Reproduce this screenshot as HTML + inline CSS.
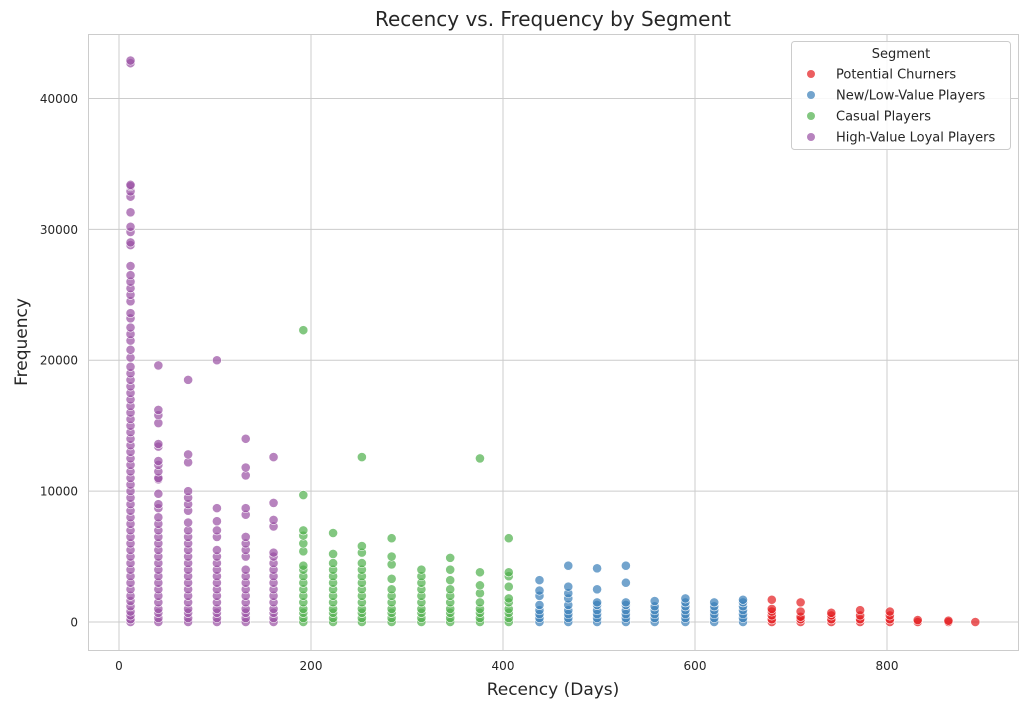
<!DOCTYPE html>
<html><head><meta charset="utf-8">
<style>
body{margin:0;background:#fff;font-family:"Liberation Sans","DejaVu Sans",sans-serif;}
svg text{font-family:"DejaVu Sans","Liberation Sans",sans-serif;}
</style></head>
<body>
<svg id="chart" width="1028" height="708" viewBox="0 0 1028 708">
<rect x="0" y="0" width="1028" height="708" fill="#fff"/>
<g id="grid"></g>
<rect x="88.5" y="34.5" width="930" height="616" fill="none" stroke="#cccccc"/>
<g id="points"></g>
<g id="ticks"></g>
<text x="553" y="26" text-anchor="middle" font-size="20" fill="#262626">Recency vs. Frequency by Segment</text>
<text x="553" y="695" text-anchor="middle" font-size="17" fill="#262626">Recency (Days)</text>
<text x="27" y="342" text-anchor="middle" font-size="17" fill="#262626" transform="rotate(-90 27 342)">Frequency</text>
<g>
<rect x="791.5" y="41.5" width="219" height="108" rx="3" fill="#fff" fill-opacity="0.85" stroke="#cccccc"/>
<text x="901" y="58" text-anchor="middle" font-size="13" fill="#262626">Segment</text>
<g id="legend-items"></g>
</g>
</svg>
<script>
const xTicks=[0,200,400,600,800];
const yTicks=[0,10000,20000,30000,40000];
const segNames=["High-Value Loyal Players","Casual Players","New/Low-Value Players","Potential Churners"];
const segColors=["#984ea3","#4daf4a","#377eb8","#e41a1c"];
const legendOrder=[3,2,1,0];
const loyalRecency=[12,41,72,102,132,161];
const loyalFreq=[
[0,200,500,800,1200,1600,2000,2500,3000,3500,4000,4500,5000,5500,6000,6500,7000,7500,8000,8500,9000,9500,10000,10500,11000,11500,12000,12500,13000,13500,14000,14500,15000,15500,16000,16500,17000,17500,18000,18500,19000,19500,20200,20800,21500,22000,22500,23200,23600,24500,25000,25500,26000,26500,27200,28800,29000,29800,30200,31300,32500,32900,33300,33400,42700,42900],
[0,300,700,1000,1500,2000,2500,3000,3500,4000,4500,5000,5500,6000,6500,7000,7500,8000,8700,9000,9800,10900,11000,11500,12000,12300,13400,13600,15200,15800,16200,19600],
[0,300,700,1000,1500,2000,2500,3000,3500,4000,4500,5000,5500,6000,6500,7000,7600,8500,9000,9500,10000,12200,12800,18500],
[0,300,700,1000,1500,2000,2500,3000,3500,4000,4500,5000,5500,6500,7000,7700,8700,20000],
[0,300,700,1000,1500,2000,2500,3000,3500,4000,5000,5500,6000,6500,8200,8700,11200,11800,14000],
[0,300,700,1000,1500,2000,2500,3000,3500,4000,4500,5000,5300,7300,7800,9100,12600]];
const casualRecency=[192,223,253,284,315,345,376,406];
const casualFreq=[
[0,300,700,1000,1500,2000,2500,3000,3500,4000,4300,5400,6000,6600,7000,9700,22300],
[0,300,700,1000,1500,2000,2500,3000,3500,4000,4500,5200,6800],
[0,300,700,1000,1500,2000,2500,3000,3500,4000,4500,5300,5800,12600],
[0,300,700,1000,1500,2000,2500,3300,4400,5000,6400],
[0,300,700,1000,1500,2000,2500,3000,3500,4000],
[0,300,700,1000,1500,2000,2500,3200,4000,4900],
[0,300,700,1000,1500,2200,2800,3800,12500],
[0,300,700,1000,1500,1800,2700,3500,3800,6400]];
const newRecency=[438,468,498,528,558,590,620,650];
const newFreq=[
[0,300,600,900,1300,2000,2400,3200],
[0,300,600,900,1300,1800,2200,2700,4300],
[0,300,600,900,1300,1500,2500,4100],
[0,300,600,900,1300,1500,3000,4300],
[0,300,600,900,1200,1600],
[0,300,600,900,1200,1500,1800],
[0,300,600,900,1200,1500],
[0,300,600,900,1200,1500,1700]];
const churnRecency=[680,710,742,772,803,832,864,892];
const churnFreq=[[0,200,500,800,1000,1700],[0,200,400,800,1500],[0,200,500,700],[0,200,500,900],[0,200,500,800],[0,150],[0,100],[0]];

const NS="http://www.w3.org/2000/svg";
const xS=v=>119+v*0.96;
const yS=v=>622-v*0.013088;
const grid=document.getElementById('grid'),ticks=document.getElementById('ticks');
function mk(tag,attrs,parent){const e=document.createElementNS(NS,tag);for(const k in attrs)e.setAttribute(k,attrs[k]);parent.appendChild(e);return e;}
xTicks.forEach(t=>{
 const l=mk('line',{x1:xS(t),x2:xS(t),y1:34,y2:650,stroke:'#cccccc'},grid);
 
 
 const tx=mk('text',{x:xS(t),y:670,'text-anchor':'middle','font-size':12,fill:'#262626'},ticks);tx.textContent=t;
 
 
});
yTicks.forEach(t=>{
 const l=mk('line',{x1:88,x2:1018,y1:yS(t),y2:yS(t),stroke:'#cccccc'},grid);
 
 
 const tx=mk('text',{x:78,y:yS(t)+4.5,'text-anchor':'end','font-size':12,fill:'#262626'},ticks);tx.textContent=t;
 
 
});
const pts=document.getElementById('points');
[[loyalRecency,loyalFreq],[casualRecency,casualFreq],[newRecency,newFreq],[churnRecency,churnFreq]].forEach((s,si)=>{
 s[0].forEach((r,ci)=>{
  s[1][ci].forEach(f=>{
   const c=mk('circle',{cx:xS(r),cy:yS(f),r:4.6,fill:segColors[si],'fill-opacity':0.7,stroke:'#fff','stroke-width':0.6},pts);
   
   
  });
 });
});
const li=document.getElementById('legend-items');
legendOrder.forEach((si,i)=>{
 const y=74+i*21;
 const c=mk('circle',{cx:811,cy:y,r:4,fill:segColors[si],'fill-opacity':0.7},li);
 
 
 const t=mk('text',{x:836,y:y+4.5,'font-size':13,fill:'#262626'},li);t.textContent=segNames[si];
 
 
});
</script>
</body></html>
